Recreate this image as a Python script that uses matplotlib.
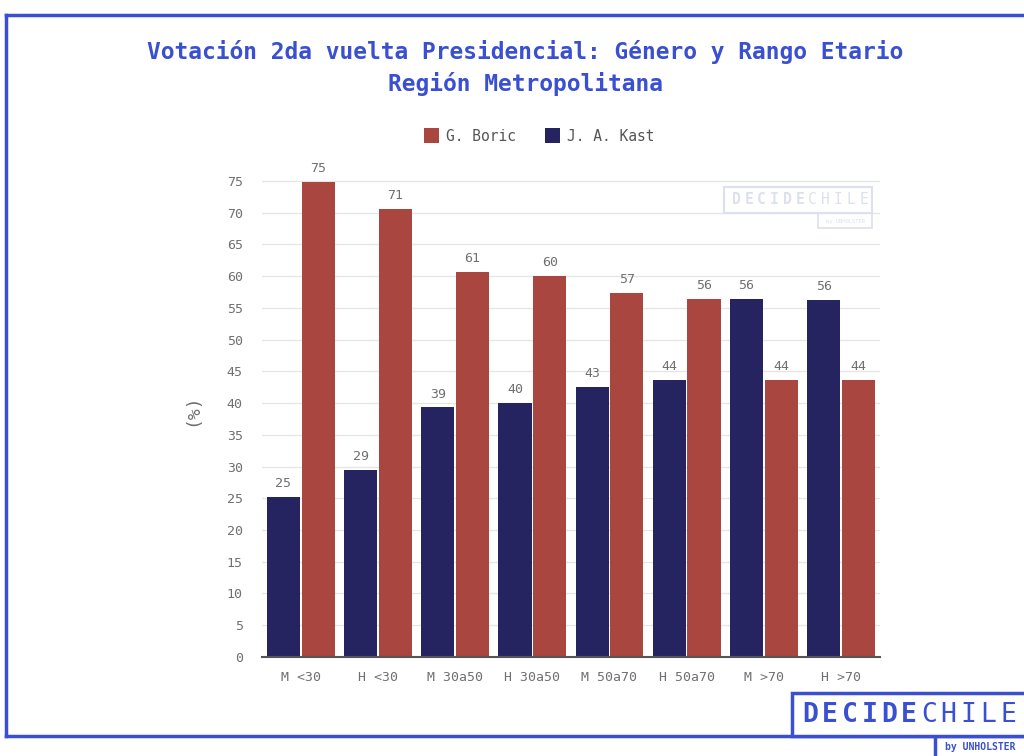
import matplotlib
matplotlib.use("Agg")
import matplotlib.pyplot as plt
from matplotlib.patches import Rectangle
from matplotlib.lines import Line2D
import numpy as np

# data
categories = ["M <30", "H <30", "M 30a50", "H 30a50", "M 50a70", "H 50a70", "M >70", "H >70"]
kast = [25.2, 29.4, 39.3, 40.0, 42.6, 43.6, 56.4, 56.3]
boric = [74.8, 70.6, 60.7, 60.0, 57.4, 56.4, 43.6, 43.7]
yticks = list(range(0, 80, 5))

BORIC_COLOR = "#a8463f"
KAST_COLOR = "#252461"
BLUE = "#3a50d0"
GRAY = "#707070"
FONT = "DejaVu Sans Mono"

plt.rcParams["font.family"] = [FONT, "DejaVu Sans"]

fig = plt.figure(figsize=(10.24, 7.56), dpi=100)
ax = fig.add_axes([0.256, 0.131, 0.603, 0.655])

x = np.arange(len(categories))
w = 0.43
b1 = ax.bar(x - 0.225, kast, w, color=KAST_COLOR, label="J. A. Kast", zorder=3)
b2 = ax.bar(x + 0.225, boric, w, color=BORIC_COLOR, label="G. Boric", zorder=3)

for bars, vals in [(b1, kast), (b2, boric)]:
    for rect, v in zip(bars, vals):
        ax.annotate(f"{v:.0f}", (rect.get_x() + rect.get_width() / 2, v),
                    xytext=(0, 5), textcoords="offset points",
                    ha="center", va="bottom", fontsize=9.5, color=GRAY)

ax.set_xlim(-0.5, 7.5)
ax.set_ylim(0, 78)
ax.set_yticks(yticks)
ax.set_xticks(x)
ax.set_xticklabels(categories)
ax.tick_params(axis="both", length=0, labelsize=9.5, labelcolor=GRAY)
ax.tick_params(axis="y", pad=14)
ax.tick_params(axis="x", pad=10)
ax.grid(axis="y", color="#e6e6e6", linewidth=1, zorder=0)
for s in ["top", "right", "left"]:
    ax.spines[s].set_visible(False)
ax.spines["bottom"].set_color("#555555")
ax.spines["bottom"].set_linewidth(1.5)
ax.spines["bottom"].set_zorder(4)
ax.set_ylabel("(%)", fontsize=13, color=GRAY, labelpad=18)

# legend
h, l = ax.get_legend_handles_labels()
fig.legend(h[::-1], l[::-1], loc="center", bbox_to_anchor=(0.527, 0.820), ncol=2,
           frameon=False, fontsize=10.5, handlelength=1.0, handleheight=1.2,
           columnspacing=2.0, handletextpad=0.5, labelcolor="#555555")

# title
fig.text(0.513, 0.931, "Votación 2da vuelta Presidencial: Género y Rango Etario",
         ha="center", va="center", fontsize=16.5, color=BLUE, fontweight="bold")
fig.text(0.513, 0.889, "Región Metropolitana",
         ha="center", va="center", fontsize=16.5, color=BLUE, fontweight="bold")

# faint watermark inside plot
wm_color = "#dde0ee"
fig.patches.append(Rectangle((724 / 1024, 1 - 213 / 756), 148 / 1024, 26 / 756,
                             transform=fig.transFigure, fill=False,
                             edgecolor=wm_color, linewidth=1.5, zorder=5))
fig.patches.append(Rectangle((818 / 1024, 1 - 228 / 756), 54 / 1024, 15 / 756,
                             transform=fig.transFigure, fill=False,
                             edgecolor=wm_color, linewidth=1.2, zorder=5))
for i, ch in enumerate("DECIDECHILE"):
    fig.text((736 + i * 12.8) / 1024, 1 - 200 / 756, ch, ha="center", va="center",
             fontsize=10.5, color=wm_color, fontweight="bold" if i < 6 else "normal",
             zorder=6)
fig.text(845 / 1024, 1 - 221 / 756, "by UNHOLSTER", ha="center", va="center",
         fontsize=4, color=wm_color, zorder=6)

# outer frame
lw = 2.5
fig.lines.append(Line2D([6 / 1024, 1.0], [1 - 15 / 756] * 2, transform=fig.transFigure,
                        color=BLUE, linewidth=lw))
fig.lines.append(Line2D([6 / 1024] * 2, [1 - 15 / 756, 1 - 736 / 756],
                        transform=fig.transFigure, color=BLUE, linewidth=lw))
fig.lines.append(Line2D([6 / 1024, 1.0], [1 - 736 / 756] * 2, transform=fig.transFigure,
                        color=BLUE, linewidth=lw))

# logo box bottom right
fig.patches.append(Rectangle((792 / 1024, 1 - 736 / 756), 240 / 1024, 43 / 756,
                             transform=fig.transFigure, facecolor="white",
                             edgecolor=BLUE, linewidth=lw, zorder=5))
fig.lines.append(Line2D([935 / 1024] * 2, [1 - 736 / 756, 0.0],
                        transform=fig.transFigure, color=BLUE, linewidth=lw))
for i, ch in enumerate("DECIDECHILE"):
    fig.text((810 + i * 19.8) / 1024, 1 - 715 / 756, ch, ha="center", va="center",
             fontsize=19, color=BLUE, fontweight="bold" if i < 6 else "normal",
             zorder=6)
fig.text(945 / 1024, 1 - 747 / 756, "by UNHOLSTER", ha="left", va="center",
         fontsize=7, color=BLUE, fontweight="bold", zorder=6)

fig.savefig("out.png", dpi=100)
